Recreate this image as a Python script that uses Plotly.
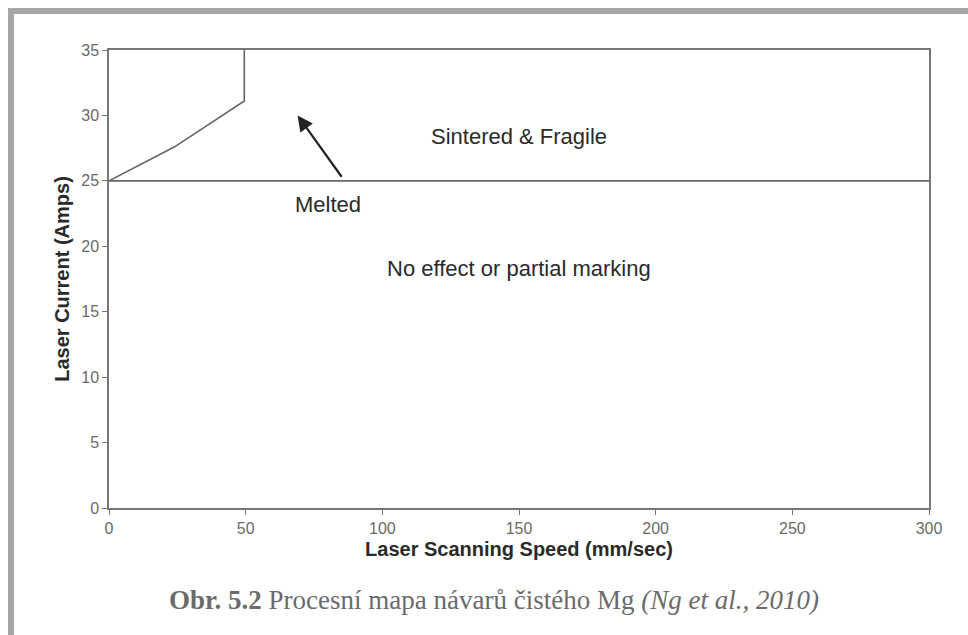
import plotly.graph_objects as go

# ---- data ----
boundary_x = [0, 24, 49.5, 49.5]
boundary_y = [25, 27.6, 31.1, 35]
threshold_x = [0, 300]
threshold_y = [25, 25]

region_labels = ["Sintered & Fragile", "Melted", "No effect or partial marking"]
region_x = [150, 80, 150]
region_y = [28.4, 23.2, 18.3]

arrow_head = (69, 30.0)
arrow_tail = (85.5, 25.2)

x_ticks = [0, 50, 100, 150, 200, 250, 300]
y_ticks = [0, 5, 10, 15, 20, 25, 30, 35]

x_title = "Laser Scanning Speed (mm/sec)"
y_title = "Laser Current (Amps)"
caption = "<b>Obr. 5.2</b> Procesní mapa návarů čistého Mg <i>(Ng et al., 2010)</i>"

# ---- figure ----
L, R, T, B = 109, 929, 50, 508
W, H = 968, 635

def px(x):
    return (x - L) / (R - L)

def py(y):
    return (B - y) / (B - T)

fig = go.Figure()
line_col = "#666666"
fig.add_trace(go.Scatter(x=boundary_x, y=boundary_y, mode="lines",
                         line=dict(color=line_col, width=1.6), showlegend=False,
                         hoverinfo="skip"))
fig.add_trace(go.Scatter(x=threshold_x, y=threshold_y, mode="lines",
                         line=dict(color=line_col, width=1.6), showlegend=False,
                         hoverinfo="skip"))

annotations = []
for t, x, y in zip(region_labels, region_x, region_y):
    annotations.append(dict(x=x, y=y, xref="x", yref="y", text=t, showarrow=False,
                            font=dict(family="Liberation Sans", size=22, color="#2a2a2a")))

annotations.append(dict(x=arrow_head[0], y=arrow_head[1], ax=arrow_tail[0], ay=arrow_tail[1],
                        xref="x", yref="y", axref="x", ayref="y", text="",
                        showarrow=True, arrowhead=2, arrowsize=1.4, arrowwidth=2.2,
                        arrowcolor="#222222", standoff=0, startstandoff=0))

annotations.append(dict(x=px(494), y=py(600), xref="paper", yref="paper", text=caption,
                        showarrow=False, xanchor="center", yanchor="middle",
                        font=dict(family="Liberation Serif", size=27, color="#6b6b6b")))

shapes = [
    dict(type="rect", xref="paper", yref="paper", x0=px(8), x1=px(968), y0=py(8), y1=py(14),
         fillcolor="#a6a6a6", line=dict(width=0), layer="above"),
    dict(type="rect", xref="paper", yref="paper", x0=px(8), x1=px(14), y0=py(8), y1=py(640),
         fillcolor="#a6a6a6", line=dict(width=0), layer="above"),
]

axis_common = dict(showgrid=False, zeroline=False, showline=True, linecolor="#777777",
                   linewidth=1.5, mirror=True, ticks="outside", ticklen=5, tickwidth=1.2,
                   tickcolor="#777777",
                   tickfont=dict(family="Liberation Sans", size=16, color="#6a6a6a"))

fig.update_layout(
    width=W, height=H,
    margin=dict(l=L, r=W - R, t=T, b=H - B),
    paper_bgcolor="white", plot_bgcolor="white",
    xaxis=dict(range=[0, 300], tickvals=x_ticks, **axis_common,
               title=dict(text="<b>" + x_title + "</b>", standoff=6,
                          font=dict(family="Liberation Sans", size=20, color="#2a2a2a"))),
    yaxis=dict(range=[0, 35], tickvals=y_ticks, **axis_common,
               title=dict(text="<b>" + y_title + "</b>", standoff=6,
                          font=dict(family="Liberation Sans", size=20, color="#2a2a2a"))),
    annotations=annotations,
    shapes=shapes,
    showlegend=False,
)

fig.write_html("out.html")
